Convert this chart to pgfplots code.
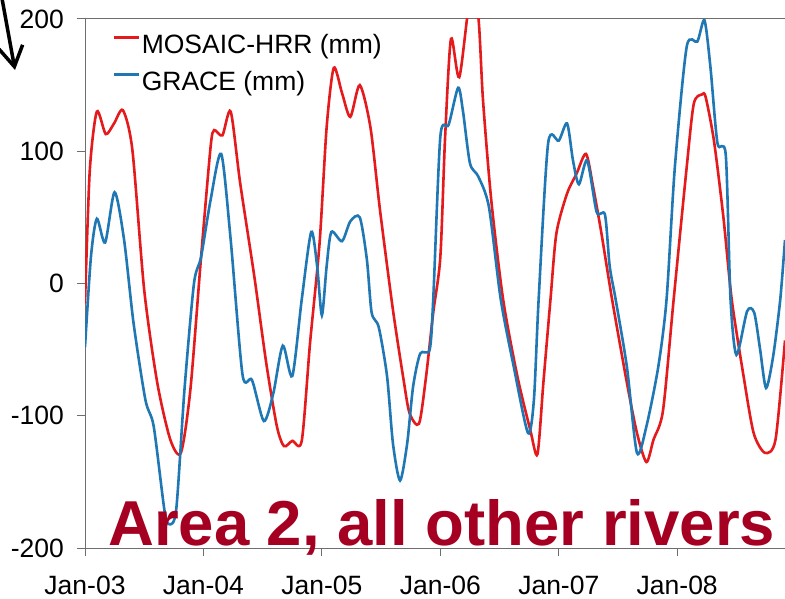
\documentclass[border=0pt]{standalone}
\usepackage{pgfplots}
\pgfplotsset{compat=1.18}
\usepackage{pgfplotstable}
\usepackage{fontspec}
\setmainfont{Liberation Sans}
\usetikzlibrary{arrows.meta}
\definecolor{serRed}{RGB}{228,26,28}
\definecolor{serBlue}{RGB}{31,119,180}
\definecolor{titleRed}{RGB}{165,0,33}
\definecolor{axgray}{RGB}{110,110,110}

% t = years since Jan 2003
\pgfplotstableread{
t v
0.00 -15
0.04 85
0.10 130
0.175 113
0.245 121
0.32 131
0.40 101
0.50 -5
0.61 -75
0.72 -118
0.81 -128
0.89 -80
0.98 20
1.06 103
1.09 116
1.16 112
1.23 130
1.31 76
1.43 5
1.53 -60
1.62 -108
1.68 -123
1.75 -119
1.83 -119
1.90 -45
1.98 30
2.04 118
2.10 163
2.17 144
2.24 126
2.32 150
2.41 118
2.49 56
2.60 -20
2.69 -73
2.74 -98
2.82 -106
2.88 -70
2.94 -22
3.00 20
3.04 110
3.09 185
3.16 156
3.25 215
3.32 202
3.36 139
3.43 63
3.53 -12
3.65 -70
3.76 -111
3.82 -129
3.87 -75
3.93 -12
3.98 38
4.07 68
4.15 83
4.23 98
4.29 73
4.36 38
4.45 -12
4.575 -75
4.66 -113
4.74 -135
4.80 -118
4.88 -96
4.97 -12
5.08 88
5.14 136
5.21 143
5.24 141
5.31 108
5.39 50
5.46 -12
5.56 -70
5.645 -113
5.74 -128
5.83 -118
5.91 -43
}\mosaic

\pgfplotstableread{
t v
0.00 -48
0.05 20
0.10 49
0.17 31
0.25 69
0.33 33
0.41 -30
0.51 -88
0.58 -108
0.67 -171
0.71 -182
0.77 -171
0.84 -80
0.92 0
0.98 20
1.06 63
1.15 98
1.23 33
1.33 -69
1.41 -73
1.51 -104
1.59 -83
1.67 -47
1.75 -70
1.83 -12
1.91 39
1.96 13
2.00 -24
2.04 13
2.08 39
2.17 32
2.24 47
2.32 50
2.38 18
2.42 -22
2.48 -33
2.55 -70
2.60 -121
2.66 -149
2.72 -121
2.77 -78
2.83 -53
2.91 -50
2.94 -12
3.00 111
3.07 120
3.15 148
3.19 131
3.25 91
3.32 81
3.41 58
3.51 -12
3.62 -63
3.74 -113
3.79 -88
3.83 -12
3.91 106
4.00 108
4.07 121
4.12 93
4.17 75
4.24 93
4.32 54
4.39 52
4.43 13
4.48 -12
4.575 -63
4.66 -128
4.74 -108
4.84 -63
4.91 -12
4.98 88
5.08 179
5.17 183
5.23 199
5.28 164
5.34 106
5.41 97
5.45 -12
5.50 -54
5.59 -21
5.65 -22
5.70 -50
5.75 -79
5.81 -55
5.87 -12
5.91 33
}\grace

\newcommand{\lblfont}{\fontsize{26.5bp}{30bp}\selectfont}

\begin{document}
\begin{tikzpicture}
\path[use as bounding box] (0,0) rectangle (785bp,599bp);
\begin{axis}[
  at={(85bp,51bp)}, anchor=south west,
  scale only axis, width=700bp, height=529bp,
  xmin=0, xmax=5.91, ymin=-200, ymax=200,
  xtick={0,1,2,3,4,5},
  xticklabels={Jan-03,Jan-04,Jan-05,Jan-06,Jan-07,Jan-08},
  ytick={-200,-100,0,100,200},
  yticklabels={-200,-100,0,100,200},
  xtick pos=bottom, ytick pos=left,
  tick align=outside, major tick length=8bp,
  every tick/.style={axgray, line width=1bp},
  axis line style={axgray, line width=1bp},
  ticklabel style={font=\lblfont, text=black},
  xticklabel style={anchor=base, inner sep=0pt, yshift=-38bp},
  yticklabel style={anchor=east, inner sep=0pt, xshift=-13bp},
  legend style={draw=none, fill=none, at={(0.04,0.975)}, anchor=north west,
    font=\lblfont, row sep=9bp, inner sep=0pt, column sep=0pt,
    nodes={inner sep=1bp, text height=20bp, text depth=6bp}},
  legend cell align=left,
  legend image code/.code={\draw[#1] (0bp,9bp) -- (25bp,9bp);},
]
\addplot[serRed, line width=2.6bp, smooth, tension=0.45] table[x=t,y=v] {\mosaic};
\addlegendentry{MOSAIC-HRR (mm)}
\addplot[serBlue, line width=2.6bp, smooth, tension=0.45] table[x=t,y=v] {\grace};
\addlegendentry{GRACE (mm)}
\end{axis}
\node[anchor=base west, inner sep=0pt, text=titleRed,
  font=\fontsize{63.5bp}{70bp}\selectfont\bfseries] at (108bp,53bp) {Area 2, all other rivers};
\draw[line width=3.5bp, -{Straight Barb[length=20bp,width=24bp]}] (1bp,606bp) -- (15bp,529bp);
\end{tikzpicture}
\end{document}
